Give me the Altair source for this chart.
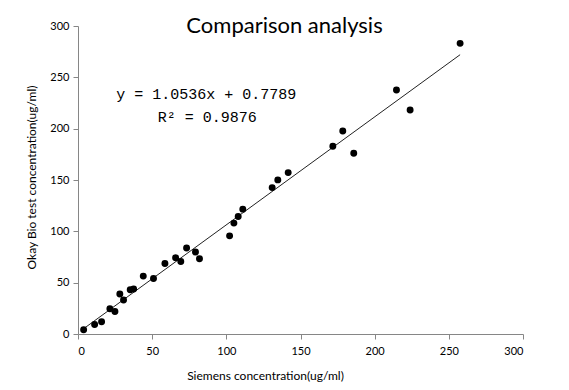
import altair as alt
import pandas as pd

siemens = [3.8, 11.2, 15.9, 21.5, 24.9, 28.2, 30.7, 35.2, 37.5, 44.0,
           50.9, 58.6, 65.8, 69.3, 73.2, 79.2, 81.9, 102.2, 105.1, 108.0,
           111.1, 130.9, 134.7, 141.7, 171.8, 178.5, 185.9, 214.7, 223.9, 257.6]
okay = [4.2, 9.3, 12.0, 24.6, 22.0, 38.9, 33.1, 43.1, 43.8, 56.4,
        54.1, 68.7, 74.2, 70.6, 83.7, 79.8, 73.3, 95.6, 108.0, 114.4,
        121.6, 142.6, 150.1, 157.2, 182.9, 197.8, 176.1, 237.7, 218.2, 283.1]

eq_text = ["y = 1.0536x + 0.7789", "R\u00b2 = 0.9876"]
eq_x = [25.8, 53.8]
eq_y = [228.6, 206.3]

tick_vals = [0, 50, 100, 150, 200, 250, 300]

df = pd.DataFrame({"Siemens": siemens, "Okay": okay})
ann = pd.DataFrame({"text": eq_text, "x": eq_x, "y": eq_y})

axis_common = dict(
    values=tick_vals, grid=False, domainColor="#868686", tickColor="#868686",
    tickSize=5, labelFont="Lato", labelFontSize=11, labelColor="black",
    titleFont="Lato", titleFontSize=12, titleFontWeight="normal", titleColor="black",
    titleAlign="center",
)

xscale = alt.Scale(domain=[0, 300], nice=False, zero=True)
yscale = alt.Scale(domain=[0, 300], nice=False, zero=True)

x_enc = alt.X("Siemens:Q", scale=xscale,
              axis=alt.Axis(title="Siemens concentration(ug/ml)", labelPadding=6,
                            titleX=187, titleY=45, titleBaseline="alphabetic",
                            **axis_common))
y_enc = alt.Y("Okay:Q", scale=yscale,
              axis=alt.Axis(title="Okay Bio test concentration(ug/ml)", labelPadding=4,
                            titleX=-47, titleY=151, titleBaseline="middle",
                            **axis_common))

base = alt.Chart(df)
line = base.transform_regression("Siemens", "Okay").mark_line(
    color="#222222", strokeWidth=1).encode(x=x_enc, y=y_enc)
points = base.mark_circle(size=48, color="black", opacity=1).encode(x=x_enc, y=y_enc)
text = alt.Chart(ann).mark_text(
    align="left", baseline="alphabetic", font="Liberation Mono", fontSize=15, color="black"
).encode(x=alt.X("x:Q", scale=xscale), y=alt.Y("y:Q", scale=yscale), text="text:N")

chart = alt.layer(line, points, text).properties(
    width=445, height=308,
    title=alt.TitleParams("Comparison analysis", font="Lato", fontSize=22,
                          fontWeight="normal", color="black", anchor="middle",
                          baseline="alphabetic", offset=0, dx=-16, dy=35),
    autosize=alt.AutoSizeParams(type="none"),
    padding={"left": 70, "top": 18, "right": 38, "bottom": 54},
).configure_view(stroke=None)

chart.save("out.html", embed_options={"renderer": "svg", "actions": False})
